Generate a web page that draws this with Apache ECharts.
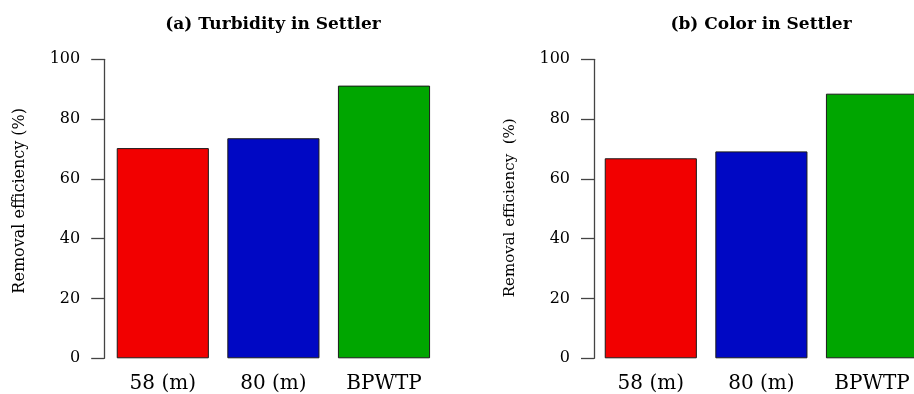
<!DOCTYPE html>
<html>
<head>
<meta charset="utf-8">
<script src="https://cdn.jsdelivr.net/npm/echarts@6/dist/echarts.min.js"></script>
<style>
  html, body { margin: 0; padding: 0; background: #fff; overflow: hidden; }
  /* the second panel runs past the right edge of the page */
  #chart { width: 960px; height: 394px; }
</style>
</head>
<body>
<div id="chart"></div>
<script>
// Sampling locations / plant
const categories = ['58 (m)', '80 (m)', 'BPWTP'];
// Removal efficiency (%) in the settler
const turbidityRemoval = [70.3, 73.6, 91.2];
const colorRemoval = [66.9, 69.2, 88.5];
const yTicks = [0, 20, 40, 60, 80, 100];
const panelTitles = ['(a) Turbidity in Settler', '(b) Color in Settler'];
const yNames = ['Removal efficiency (%)', 'Removal efficiency  (%)'];
const barColors = ['#f20000', '#0008c4', '#00a600'];

const FONT = 'DejaVu Serif';
const chart = echarts.init(document.getElementById('chart'));

const grids = [
  { left: 107.5, top: 59.3, width: 331.8, height: 299 },
  { left: 595.5, top: 59.3, width: 331.8, height: 299 }
];
const axisOffsets = [3.3, 1.5];

function xAxisFor(i) {
  return {
    type: 'category',
    gridIndex: i,
    data: categories,
    axisLine: { show: false },
    axisTick: { show: false },
    axisLabel: { color: '#000', fontFamily: FONT, fontSize: 20, margin: 15 }
  };
}

function yAxisFor(i) {
  return {
    type: 'value',
    gridIndex: i,
    min: yTicks[0],
    max: yTicks[yTicks.length - 1],
    interval: yTicks[1] - yTicks[0],
    offset: axisOffsets[i],
    splitLine: { show: false },
    axisLine: { show: true, lineStyle: { color: '#444', width: 1.3 } },
    axisTick: { show: true, length: 13, lineStyle: { color: '#444', width: 1.3 } },
    axisLabel: { color: '#000', fontFamily: FONT, fontSize: 16, margin: 24 },
    name: yNames[i],
    nameLocation: 'middle',
    nameGap: 76,
    nameTextStyle: {
      color: '#000', fontFamily: FONT, fontSize: i === 0 ? 16 : 15,
      padding: i === 0 ? [0, 0, 0, 16] : [0, 0, 0, 2]
    }
  };
}

function barSeries(i, values) {
  return {
    type: 'bar',
    xAxisIndex: i,
    yAxisIndex: i,
    barCategoryGap: '16.7%',
    data: values.map((v, k) => ({
      value: v,
      itemStyle: { color: barColors[k] }
    })),
    itemStyle: { borderColor: '#1a1a1a', borderWidth: 1 },
    emphasis: { disabled: true }
  };
}

chart.setOption({
  animation: false,
  backgroundColor: '#fff',
  title: [
    { text: panelTitles[0], left: 268, top: 11, textAlign: 'center',
      textStyle: { fontFamily: FONT, fontWeight: 'bold', fontSize: 17, color: '#000' } },
    { text: panelTitles[1], left: 756, top: 11, textAlign: 'center',
      textStyle: { fontFamily: FONT, fontWeight: 'bold', fontSize: 17, color: '#000' } }
  ],
  grid: grids,
  xAxis: [xAxisFor(0), xAxisFor(1)],
  yAxis: [yAxisFor(0), yAxisFor(1)],
  series: [barSeries(0, turbidityRemoval), barSeries(1, colorRemoval)]
});
</script>
</body>
</html>
